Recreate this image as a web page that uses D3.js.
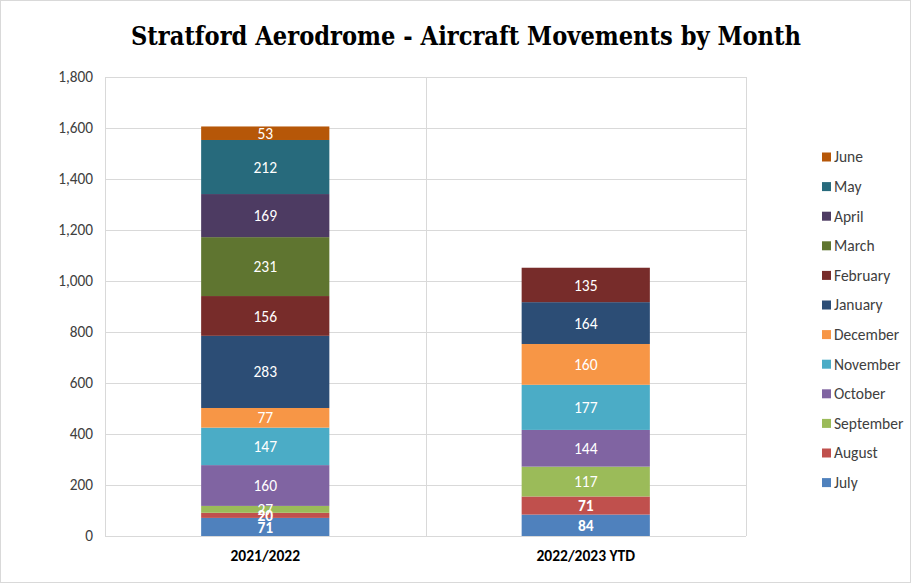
<!DOCTYPE html>
<html><head><meta charset="utf-8">
<script src="https://cdn.jsdelivr.net/npm/d3@7"></script>
<style>body{margin:0;background:#fff;}svg{display:block;}</style>
</head><body>
<svg id="c" width="912" height="584"></svg>
<script>
const categories = ["2021/2022", "2022/2023 YTD"];
const months = ["July","August","September","October","November","December","January","February","March","April","May","June"];
const values2122 = [71, 20, 27, 160, 147, 77, 283, 156, 231, 169, 212, 53];
const values2223 = [84, 71, 117, 144, 177, 160, 164, 135, null, null, null, null];
const colors = ["#4F81BD","#C0504D","#9BBB59","#8064A2","#4BACC6","#F79646","#2C4D75","#772C2A","#5F7530","#4D3B62","#276A7C","#B65708"];
const boldMonths = ["July","August"];
const yTicks = [0,200,400,600,800,1000,1200,1400,1600,1800];
const title = "Stratford Aerodrome - Aircraft Movements by Month";

const FONT = "Carlito, Lato, sans-serif";
const svg = d3.select("#c");
const W = 912, H = 584;
svg.append("rect").attr("x",0.5).attr("y",0.5).attr("width",W-2).attr("height",H-2)
  .attr("fill","#fff").attr("stroke","#D9D9D9");

const m = {left:105, right:746, top:77, bottom:536};
const x = d3.scaleBand().domain(categories).range([m.left, m.right]).paddingInner(0).paddingOuter(0);
const y = d3.scaleLinear().domain([0,1800]).range([m.bottom, m.top]);

const g = svg.append("g");
g.selectAll("line.h").data(yTicks).join("line")
  .attr("x1",m.left).attr("x2",m.right)
  .attr("y1",d=>Math.round(y(d))+0.5).attr("y2",d=>Math.round(y(d))+0.5)
  .attr("stroke","#D9D9D9").attr("stroke-width",1);
const vb = [m.left + x.bandwidth(), m.right];
g.selectAll("line.v").data(vb).join("line")
  .attr("x1",d=>Math.round(d)+0.5).attr("x2",d=>Math.round(d)+0.5)
  .attr("y1",m.top).attr("y2",m.bottom)
  .attr("stroke","#D9D9D9");
g.append("line").attr("x1",m.left+0.5).attr("x2",m.left+0.5).attr("y1",m.top).attr("y2",m.bottom).attr("stroke","#D9D9D9");

svg.append("g").selectAll("text").data(yTicks).join("text")
  .attr("x",93).attr("y",d=>y(d)).attr("dy","0.35em")
  .attr("text-anchor","end").attr("font-family",FONT)
  .attr("font-size",15.3).attr("fill","#404040")
  .text(d=>d3.format(",")(d));

const rows = categories.map((c,i)=>{
  const vals = i===0 ? values2122 : values2223;
  const o = {cat:c};
  months.forEach((mo,j)=>o[mo]=vals[j]||0);
  return o;
});
const stack = d3.stack().keys(months)(rows);
const barW = x.bandwidth()*0.4;
const bars = svg.append("g");
stack.forEach((layer,li)=>{
  layer.forEach(seg=>{
    const v = seg[1]-seg[0];
    if(!v) return;
    const cx = x(seg.data.cat)+x.bandwidth()/2;
    bars.append("rect")
      .attr("x",cx-barW/2).attr("width",barW)
      .attr("y",y(seg[1])).attr("height",y(seg[0])-y(seg[1]))
      .attr("fill",colors[li]);
  });
});
stack.forEach((layer,li)=>{
  layer.forEach(seg=>{
    const v = seg[1]-seg[0];
    if(!v) return;
    const cx = x(seg.data.cat)+x.bandwidth()/2;
    const bold = boldMonths.includes(layer.key);
    bars.append("text")
      .attr("x",cx).attr("y",(y(seg[0])+y(seg[1]))/2).attr("dy","0.36em")
      .attr("text-anchor","middle")
      .attr("font-family",FONT)
      .attr("font-size",15.5).attr("font-weight",bold?"bold":"normal")
      .attr("fill","#fff").text(v);
  });
});

svg.append("g").selectAll("text").data(categories).join("text")
  .attr("x",d=>x(d)+x.bandwidth()/2).attr("y",561)
  .attr("text-anchor","middle").attr("font-family",FONT)
  .attr("font-size",15.5).attr("font-weight","bold").attr("fill","#000")
  .text(d=>d);

const leg = svg.append("g");
const legOrder = months.slice().reverse();
legOrder.forEach((mo,i)=>{
  const yy = 157 + i*29.6;
  const ci = months.indexOf(mo);
  leg.append("rect").attr("x",822).attr("y",yy-4.5).attr("width",9).attr("height",9).attr("fill",colors[ci]);
  leg.append("text").attr("x",834).attr("y",yy).attr("dy","0.35em")
    .attr("font-family",FONT).attr("font-size",15.5).attr("fill","#404040")
    .text(mo);
});

svg.append("text").attr("x",466).attr("y",45).attr("text-anchor","middle")
  .attr("font-family","'DejaVu Serif Condensed', 'Liberation Serif', serif").attr("font-weight","bold")
  .attr("font-size",26).attr("fill","#000")
  .attr("textLength",670).attr("lengthAdjust","spacingAndGlyphs")
  .text(title);
</script>
</body></html>
